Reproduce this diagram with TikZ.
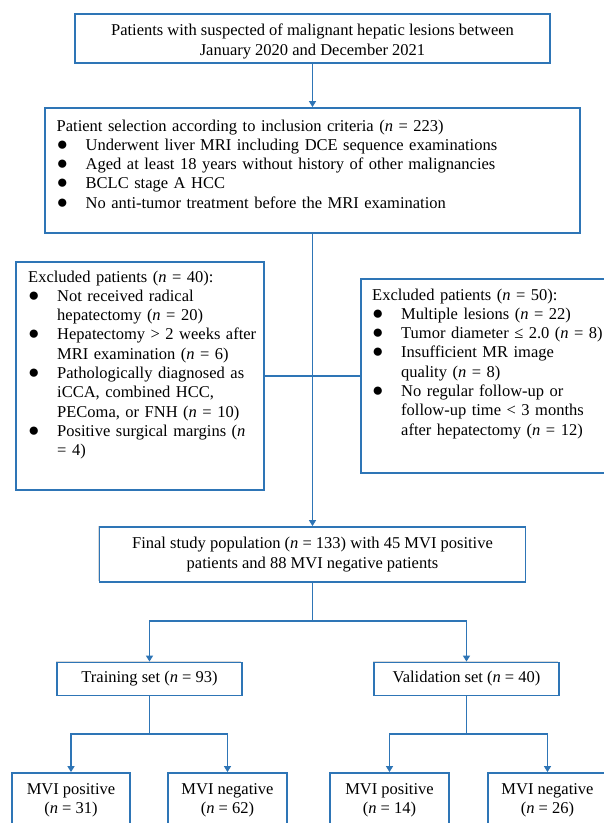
\documentclass[tikz,border=0pt]{standalone}
\usepackage{fontspec}
\setmainfont{Liberation Serif}
\usetikzlibrary{arrows.meta,shadows}
\definecolor{boxblue}{RGB}{46,117,182}
% bullet item, and continuation line of an item
\newcommand{\itm}{\par\noindent\makebox[29pt][l]{\fontsize{19}{19.3}\selectfont ●}}
\newcommand{\cnt}{\par\noindent\hspace*{29pt}}

\begin{document}
\begin{tikzpicture}[x=1pt,y=-1pt,
        font=\fontsize{16.5}{19.3}\selectfont,
        box/.style={draw=boxblue, line width=1.8pt, fill=white, inner sep=0pt, align=center,
            drop shadow={shadow xshift=-1.5pt, shadow yshift=1.5pt, opacity=0.3}},
        listtxt/.style={anchor=base west, text width=#1, align=left, inner sep=0pt},
        link/.style={draw=boxblue, line width=1.4pt},
        arr/.style={link, -{Triangle[length=6pt,width=7pt]}}]
        \fill[white] (0,0) rectangle (604,823);
        \clip (0,0) rectangle (604,823);

        % main column
        \node[box, minimum width=475pt, minimum height=49pt] (top) at (312.5,38.5)
            {\rule{0pt}{17.6pt}Patients with suspected of malignant hepatic lesions between\\January 2020 and December 2021};
        \node[box, minimum width=535pt, minimum height=125pt] (sel) at (312.5,170.5) {};
        \node[listtxt=520pt] (seltxt) at (56.5,131) {Patient selection according to inclusion criteria (\textit{n} = 223)
            \itm Underwent liver MRI including DCE sequence examinations
            \itm Aged at least 18 years without history of other malignancies
            \itm BCLC stage A HCC
            \itm No anti-tumor treatment before the MRI examination};

        % excluded patients
        \node[box, minimum width=248pt, minimum height=228pt] (excl1) at (140,376) {};
        \node[listtxt=300pt] (excl1txt) at (28,282) {Excluded patients (\textit{n} = 40):
            \itm Not received radical \cnt hepatectomy (\textit{n} = 20)
            \itm Hepatectomy > 2 weeks after \cnt MRI examination (\textit{n} = 6)
            \itm Pathologically diagnosed as \cnt iCCA, combined HCC, \cnt PEComa, or FNH (\textit{n} = 10)
            \itm Positive surgical margins (\textit{n} \cnt = 4)};
        \node[box, minimum width=251pt, minimum height=194pt] (excl2) at (486.5,376) {};
        \node[listtxt=300pt] (excl2txt) at (372,300) {Excluded patients (\textit{n} = 50):
            \itm Multiple lesions (\textit{n} = 22)
            \itm Tumor diameter ≤ 2.0 (\textit{n} = 8)
            \itm Insufficient MR image \cnt quality (\textit{n} = 8)
            \itm No regular follow-up or \cnt follow-up time < 3 months \cnt after hepatectomy (\textit{n} = 12)};

        \node[box, minimum width=426pt, minimum height=55pt] (final) at (312.5,554.5)
            {Final study population (\textit{n} = 133) with 45 MVI positive\\patients and 88 MVI negative patients};

        % sets
        \node[box, minimum width=185pt, minimum height=33pt] (train) at (149.5,679) {Training set (\textit{n} = 93)};
        \node[box, minimum width=185pt, minimum height=33pt] (valid) at (466.5,679) {Validation set (\textit{n} = 40)};

        \node[box, minimum width=118pt, minimum height=54pt] (pos1) at (71,800) {MVI positive\\(\textit{n} = 31)};
        \node[box, minimum width=119pt, minimum height=54pt] (neg1) at (227.5,800) {MVI negative\\(\textit{n} = 62)};
        \node[box, minimum width=119pt, minimum height=54pt] (pos2) at (389.5,800) {MVI positive\\(\textit{n} = 14)};
        \node[box, minimum width=119pt, minimum height=54pt] (neg2) at (547.5,800) {MVI negative\\(\textit{n} = 26)};

        \coordinate (split0) at (312.5,621);
        \coordinate (split1) at (149.5,734);
        \coordinate (split2) at (466.5,734);

        \path[arr] (top.south) -- (sel.north);
        \path[arr] (sel.south) -- (final.north);
        \path[link] (excl1.east) -- (excl2.west);
        \path[link] (final.south) -- (split0);
        \path[arr] (split0) -| (train.north);
        \path[arr] (split0) -| (valid.north);
        \path[link] (train.south) -- (split1);
        \path[arr] (split1) -| (pos1.north);
        \path[arr] (split1) -| (neg1.north);
        \path[link] (valid.south) -- (split2);
        \path[arr] (split2) -| (pos2.north);
        \path[arr] (split2) -| (neg2.north);
    \end{tikzpicture}
\end{document}
